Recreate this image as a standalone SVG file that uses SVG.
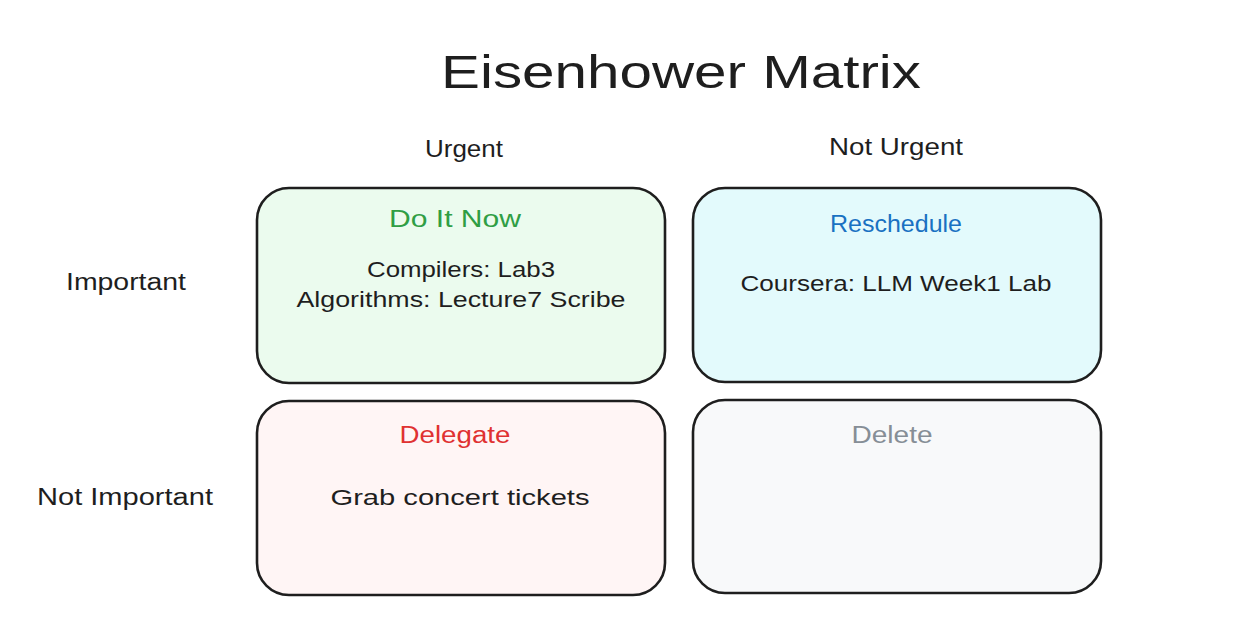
<svg xmlns="http://www.w3.org/2000/svg" width="1250" height="621" viewBox="0 0 1250 621">
<style>
.box{stroke:#1e1e1e;stroke-width:2.6;stroke-linejoin:round}
text{font-family:"Liberation Sans","DejaVu Sans",sans-serif;text-anchor:middle;fill:#1e1e1e}
.t{font-size:46px}
.ax{font-size:23px}
.hd{font-size:23px}
.bd{font-size:22px}
</style>
<rect width="1250" height="621" fill="#ffffff"/>
<g id="title"><text class="t" x="681" y="88" textLength="480" lengthAdjust="spacingAndGlyphs">Eisenhower Matrix</text></g>
<g id="label-urgent"><text class="ax" x="464" y="157" textLength="78" lengthAdjust="spacingAndGlyphs">Urgent</text></g>
<g id="label-not-urgent"><text class="ax" x="896" y="155" textLength="134" lengthAdjust="spacingAndGlyphs">Not Urgent</text></g>
<g id="label-important"><text class="ax" x="126" y="290" textLength="120" lengthAdjust="spacingAndGlyphs">Important</text></g>
<g id="label-not-important"><text class="ax" x="125" y="505" textLength="176" lengthAdjust="spacingAndGlyphs">Not Important</text></g>
<g id="do-it-now">
<rect class="box" x="257" y="188" width="408" height="195" rx="32" fill="#ebfbee"/>
<text class="hd" x="455" y="227" fill="#2f9e44" style="fill:#2f9e44" textLength="132" lengthAdjust="spacingAndGlyphs">Do It Now</text>
<text class="bd" x="461" y="277" textLength="188" lengthAdjust="spacingAndGlyphs">Compilers: Lab3</text>
<text class="bd" x="461" y="307" textLength="329" lengthAdjust="spacingAndGlyphs">Algorithms: Lecture7 Scribe</text>
</g>
<g id="reschedule">
<rect class="box" x="693" y="188" width="408" height="194" rx="32" fill="#e3fafc"/>
<text class="hd" x="896" y="232" style="fill:#1971c2" textLength="132" lengthAdjust="spacingAndGlyphs">Reschedule</text>
<text class="bd" x="896" y="291" textLength="311" lengthAdjust="spacingAndGlyphs">Coursera: LLM Week1 Lab</text>
</g>
<g id="delegate">
<rect class="box" x="257" y="401" width="408" height="194" rx="32" fill="#fff5f5"/>
<text class="hd" x="455" y="443" style="fill:#e03131" textLength="111" lengthAdjust="spacingAndGlyphs">Delegate</text>
<text class="bd" x="460" y="505" textLength="259" lengthAdjust="spacingAndGlyphs">Grab concert tickets</text>
</g>
<g id="delete">
<rect class="box" x="693" y="400" width="408" height="193" rx="32" fill="#f8f9fa"/>
<text class="hd" x="892" y="443" style="fill:#868e96" textLength="81" lengthAdjust="spacingAndGlyphs">Delete</text>
</g>
<g id="connectors"></g>
</svg>
